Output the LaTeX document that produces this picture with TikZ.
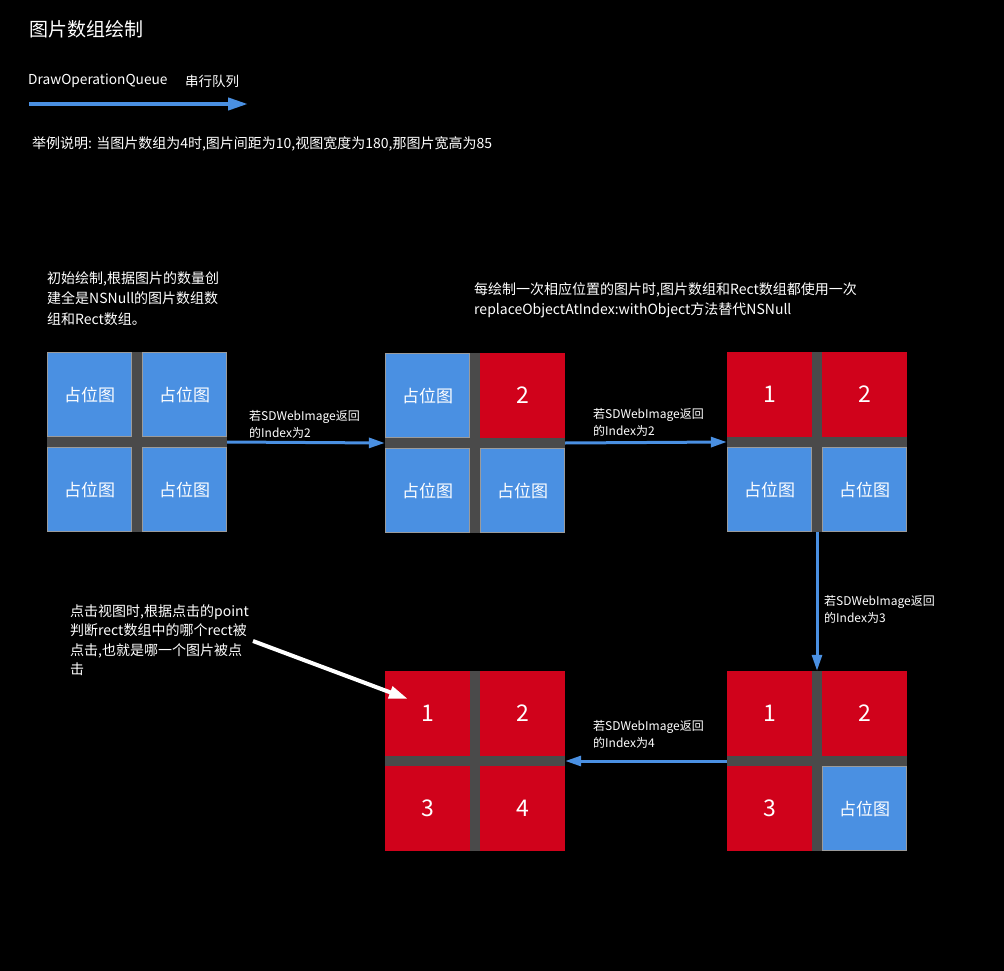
\documentclass[tikz,border=0pt]{standalone}
\usepackage{fontspec}
\setmainfont{Noto Sans CJK SC}
\usetikzlibrary{arrows.meta}
\definecolor{holdblue}{HTML}{4A90E2}
\definecolor{donered}{HTML}{D0021B}
\definecolor{gapgray}{HTML}{4A4A4A}
\definecolor{edgegray}{HTML}{9B9B9B}

\begin{document}
\begin{tikzpicture}
			[x=1pt, y=-1pt, every node/.style={text=white, inner sep=0pt},
			back/.style={rectangle, fill=gapgray, minimum size=180pt},
			hold/.style={rectangle, fill=holdblue, draw=edgegray, line width=0.8pt, minimum size=84pt, font=\fontsize{17}{20}\selectfont},
			done/.style={rectangle, fill=donered, minimum size=85pt, font=\fontsize{23}{26}\selectfont},
			link/.style={draw=holdblue, line width=3pt, -{Triangle[length=16pt,width=10pt]}},
			tap/.style={draw=white, line width=4pt, -{Triangle[length=19pt,width=12pt]}},
			tag/.style={anchor=north west, align=left, font=\fontsize{12}{17.5}\selectfont},
			note/.style={anchor=north west, align=left, font=\fontsize{14}{20.5}\selectfont}]
			\fill[black] (0,0) rectangle (1004,971);
			\node[anchor=west, font=\fontsize{19}{22}\selectfont] (title) at (29,29) {图片数组绘制};
			\node[anchor=west, font=\fontsize{13.7}{16}\selectfont] (queue) at (28,81) {DrawOperationQueue};
			\node[anchor=west, font=\fontsize{13.5}{16}\selectfont] (serial) at (185,81) {串行队列};
			\coordinate (q0) at (29,104);
			\coordinate (q1) at (248,104);
			\draw[draw=holdblue, line width=4pt, -{Triangle[length=20pt,width=12pt]}] (q0) -- (q1);
			\node[anchor=west, font=\fontsize{14}{17}\selectfont] (example) at (32,144) {举例说明: 当图片数组为4时,图片间距为10,视图宽度为180,那图片宽高为85};
			\node[note] (n1) at (47,271) {初始绘制,根据图片的数量创\\建全是NSNull的图片数组数\\组和Rect数组。};
			\node[note] (n2) at (474,282) {每绘制一次相应位置的图片时,图片数组和Rect数组都使用一次\\replaceObjectAtIndex:withObject方法替代NSNull};
			\node[note, font=\fontsize{14}{19.5}\selectfont] (n3) at (70,604) {点击视图时,根据点击的point\\判断rect数组中的哪个rect被\\点击,也就是哪一个图片被点\\击};
			\begin{scope}[shift={(47,352)}]
				\node[back] (ga) at (90,90) {};
				\node[hold] (a1) at (42.5,42.5) {占位图};
				\node[hold] (a2) at (137.5,42.5) {占位图};
				\node[hold] (a3) at (42.5,137.5) {占位图};
				\node[hold] (a4) at (137.5,137.5) {占位图};
			\end{scope}
			\begin{scope}[shift={(385,353)}]
				\node[back] (gb) at (90,90) {};
				\node[hold] (b1) at (42.5,42.5) {占位图};
				\node[done] (b2) at (137.5,42.5) {2};
				\node[hold] (b3) at (42.5,137.5) {占位图};
				\node[hold] (b4) at (137.5,137.5) {占位图};
			\end{scope}
			\begin{scope}[shift={(727,352)}]
				\node[back] (gc) at (90,90) {};
				\node[done] (c1) at (42.5,42.5) {1};
				\node[done] (c2) at (137.5,42.5) {2};
				\node[hold] (c3) at (42.5,137.5) {占位图};
				\node[hold] (c4) at (137.5,137.5) {占位图};
			\end{scope}
			\begin{scope}[shift={(727,671)}]
				\node[back] (gd) at (90,90) {};
				\node[done] (d1) at (42.5,42.5) {1};
				\node[done] (d2) at (137.5,42.5) {2};
				\node[done] (d3) at (42.5,137.5) {3};
				\node[hold] (d4) at (137.5,137.5) {占位图};
			\end{scope}
			\begin{scope}[shift={(385,671)}]
				\node[back] (ge) at (90,90) {};
				\node[done] (e1) at (42.5,42.5) {1};
				\node[done] (e2) at (137.5,42.5) {2};
				\node[done] (e3) at (42.5,137.5) {3};
				\node[done] (e4) at (137.5,137.5) {4};
			\end{scope}
			\draw[link] (ga.east) -- (gb.west);
			\draw[link] (gb.east) -- (gc.west);
			\draw[link] (gc.south) -- (gd.north);
			\draw[link] (gd.west) -- (ge.east);
			\node[tag] (t1) at (249,410) {若SDWebImage返回\\的Index为2};
			\node[tag] (t2) at (593,408) {若SDWebImage返回\\的Index为2};
			\node[tag] (t3) at (824,595) {若SDWebImage返回\\的Index为3};
			\node[tag] (t4) at (593,720) {若SDWebImage返回\\的Index为4};
			\coordinate (tapfrom) at (253,641);
			\coordinate (tapto) at (408,699);
			\draw[tap] (tapfrom) -- (tapto);
		\end{tikzpicture}
\end{document}
